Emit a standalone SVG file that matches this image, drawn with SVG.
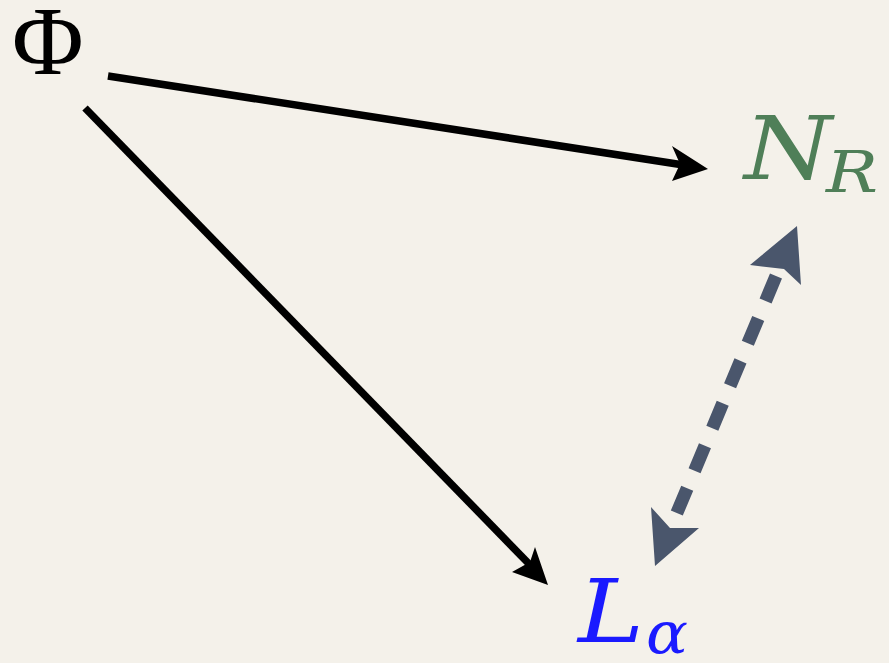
<svg xmlns="http://www.w3.org/2000/svg" width="889" height="663" viewBox="0 0 889 663">
<style>
.solid{stroke:#000;stroke-width:7.5;fill:none}
.head{fill:#000}
.dash{stroke:#4a566c;stroke-width:13;fill:none;stroke-dasharray:27 19}
.dhead{fill:#4a566c}
.lbl{font-family:"Liberation Serif","Times New Roman",serif}
.it{font-family:"DejaVu Serif",serif;font-style:italic}
</style>
<rect width="889" height="663" fill="#f4f1ea"/>
<g id="connectors">
<line class="solid" x1="108" y1="76" x2="690" y2="166"/>
<polygon class="head" points="708,169 672,146 680,164 672,181"/>
<line class="solid" x1="85" y1="108" x2="535" y2="570"/>
<polygon class="head" points="548,585 535,547 530,562 512,572"/>
<line class="dash" x1="776" y1="276" x2="676" y2="515"/>
<polygon class="dhead" points="797,226 750,265 784,269 801,285"/>
<polygon class="dhead" points="655,566 651,507 670,528 699,528"/>
</g>
<g id="phi"><text class="lbl" x="12" y="74" font-size="98">Φ</text></g>
<g id="nr" fill="#4f7f58"><text class="it" x="744" y="179" font-size="88" textLength="88" lengthAdjust="spacingAndGlyphs">N</text><text class="it" x="826" y="192" font-size="58" textLength="52" lengthAdjust="spacingAndGlyphs">R</text></g>
<g id="la" fill="#1a1aff"><text class="it" x="578" y="642" font-size="88" textLength="66" lengthAdjust="spacingAndGlyphs">L</text><text class="it" x="646" y="653" font-size="58" textLength="42" lengthAdjust="spacingAndGlyphs">α</text></g>
</svg>
